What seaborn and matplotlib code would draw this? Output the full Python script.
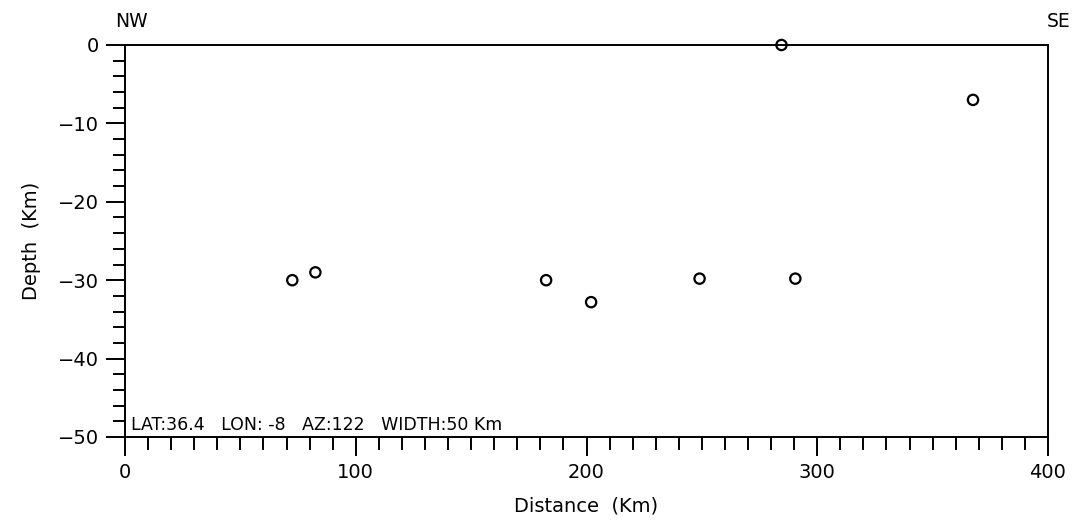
import matplotlib
matplotlib.use("Agg")
import matplotlib.pyplot as plt
import seaborn as sns
import pandas as pd
from matplotlib.ticker import MultipleLocator

# Data
distance_km = [72.5, 82.5, 182.5, 202.0, 249.0, 284.5, 290.5, 367.5]
depth_km = [-30.0, -29.0, -30.0, -32.8, -29.8, 0.0, -29.8, -7.0]
x_ticks = [0, 100, 200, 300, 400]
y_ticks = [0, -10, -20, -30, -40, -50]
info_text = "LAT:36.4   LON: -8   AZ:122   WIDTH:50 Km"

sns.set_style("ticks")
plt.rcParams["font.family"] = ["DejaVu Sans"]
plt.rcParams["text.color"] = "black"
plt.rcParams["axes.labelcolor"] = "black"
plt.rcParams["xtick.color"] = "black"
plt.rcParams["ytick.color"] = "black"

df = pd.DataFrame({"Distance": distance_km, "Depth": depth_km})

fig = plt.figure(figsize=(10.78, 5.20), dpi=100)
ax = fig.add_axes([125/1078, 1 - 437/520, 923/1078, 392/520])

sns.scatterplot(data=df, x="Distance", y="Depth", ax=ax, s=55,
                marker="o", facecolors="none", edgecolor="black",
                linewidth=1.6, clip_on=False, zorder=5)
for c in ax.collections:
    c.set_facecolor("none")
    c.set_edgecolor("black")

ax.set_xlim(0, 400)
ax.set_ylim(-50, 0)
ax.set_xticks(x_ticks)
ax.set_yticks(y_ticks)
ax.xaxis.set_minor_locator(MultipleLocator(10))
ax.yaxis.set_minor_locator(MultipleLocator(2))
ax.tick_params(axis="both", which="major", direction="out", length=14,
               width=1.4, color="black", labelsize=14, pad=5,
               labelcolor="black")
ax.tick_params(axis="both", which="minor", direction="out", length=9,
               width=1.4, color="black")
for sp in ax.spines.values():
    sp.set_visible(True)
    sp.set_linewidth(1.4)
    sp.set_color("black")

ax.set_xlabel("Distance  (Km)", fontsize=14, labelpad=10, color="black")
ax.set_ylabel("Depth  (Km)", fontsize=14, labelpad=12, color="black")

ax.text(-0.011, 1.035, "NW", transform=ax.transAxes, fontsize=13.5,
        ha="left", va="bottom", color="black")
ax.text(1.024, 1.035, "SE", transform=ax.transAxes, fontsize=13.5,
        ha="right", va="bottom", color="black")
ax.text(0.006, 0.008, info_text, transform=ax.transAxes, fontsize=12.5,
        ha="left", va="bottom", color="black")

fig.savefig("out.png", dpi=100)
